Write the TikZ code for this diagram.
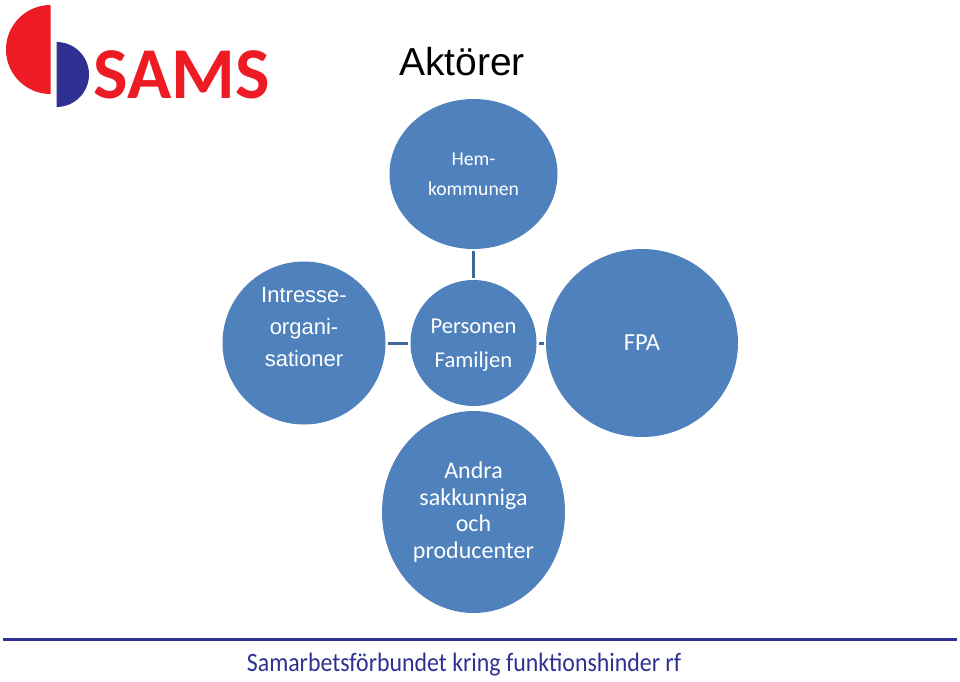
\documentclass[tikz,border=0pt]{standalone}
\usepackage{fontspec}
\setmainfont{Carlito}
\newfontfamily\arialfont{Liberation Sans}
\usetikzlibrary{shapes.geometric}
\definecolor{discblue}{HTML}{4F81BD}
\definecolor{linkblue}{HTML}{3D6898}
\definecolor{samsred}{HTML}{ED1C24}
\definecolor{samsblue}{HTML}{2E3192}
\tikzset{
  disc/.style={ellipse, fill=discblue, text=white, inner sep=0pt, align=center},
  link/.style={draw=linkblue, line width=3pt, shorten >=2pt, shorten <=2pt},
}

\begin{document}
\begin{tikzpicture}[x=1pt, y=-1pt]
    \useasboundingbox (0, 0) rectangle (960, 681);

    % logo
    \fill [samsred] (50.5, 5) arc [start angle=90, end angle=270, radius=44.5pt] -- cycle;
    \fill [samsblue] (56.5, 42) arc [start angle=90, end angle=-90, radius=32.5pt] -- cycle;
    \node [text=samsred, font=\fontsize{73}{73}\selectfont\bfseries] (sams) at (182, 75) {SAMS};

    \node [font=\arialfont\fontsize{39}{39}\selectfont] (title) at (462, 62) {Aktörer};

    \node [disc, minimum width=168pt, minimum height=150pt, font=\fontsize{19.7}{30}\selectfont] (hem) at (473.5, 174)
      {Hem-\\kommunen};
    \node [disc, minimum width=163pt, minimum height=163pt, font=\arialfont\fontsize{22}{32}\selectfont] (intresse) at (304, 343)
      {Intresse-\\organi-\\sationer\\~};
    \node [disc, minimum width=126pt, minimum height=126pt, font=\fontsize{22.6}{34}\selectfont] (personen) at (473.5, 343)
      {\rule{0pt}{18pt}Personen\\Familjen};
    \node [disc, minimum width=192pt, minimum height=188pt, font=\fontsize{24.5}{24.5}\selectfont] (fpa) at (642, 343)
      {FPA};
    \node [disc, minimum width=183pt, minimum height=202pt, font=\fontsize{24}{26.5}\selectfont] (andra) at (473.5, 512)
      {Andra\\sakkunniga\\och\\producenter};

    \draw [link] (personen) -- (hem);
    \draw [link] (personen) -- (intresse);
    \draw [link] (personen) -- (fpa);

    % footer
    \coordinate (ruleleft) at (3, 639);
    \coordinate (ruleright) at (957, 639);
    \draw [samsblue, line width=3pt] (ruleleft) -- (ruleright);
    \node [samsblue, xscale=0.9, font=\fontsize{26.5}{26.5}\selectfont] (footer) at (464, 665)
      {Samarbetsförbundet kring funktionshinder rf};
\end{tikzpicture}
\end{document}
